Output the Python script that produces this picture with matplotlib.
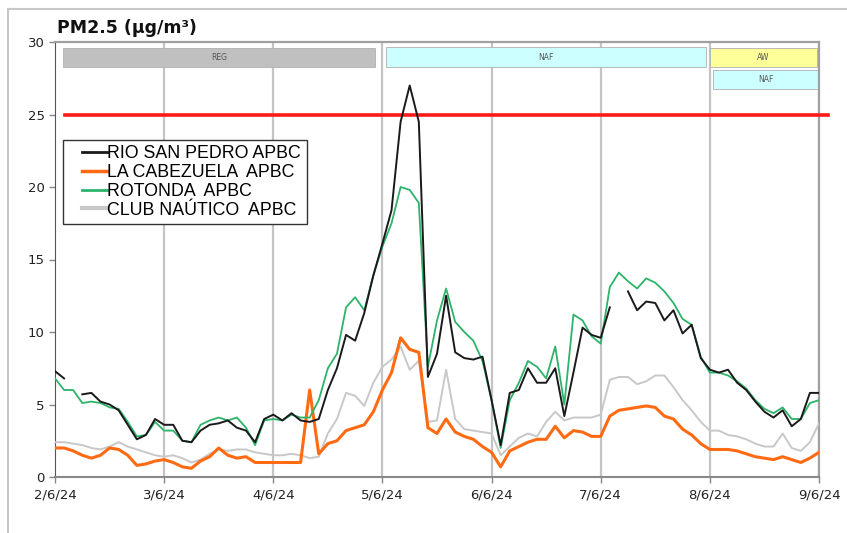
import numpy as np
import matplotlib
matplotlib.use("Agg")
import matplotlib.pyplot as plt
from matplotlib.patches import Rectangle
from matplotlib.lines import Line2D
from matplotlib.legend_handler import HandlerLine2D

nan = np.nan
# hours since 2/6/24 00:00, 2-hour steps
hours = list(range(0, 169, 2))

rio_san_pedro = [7.3, 6.8, nan, 5.7, 5.8, 5.2, 5.0, 4.6, 3.6, 2.6, 2.9, 4.0, 3.6, 3.6, 2.5, 2.4,
                 3.2, 3.6, 3.7, 3.9, 3.4, 3.2, 2.4, 4.0, 4.3, 3.9, 4.4, 3.9, 3.8, 4.0, 6.0, 7.5,
                 9.8, 9.4, 11.3, 13.9, 16.1, 18.4, 24.5, 27.0, 24.5, 6.9, 8.5, 12.5, 8.6, 8.2, 8.1, 8.3,
                 5.3, 2.2, 5.8, 6.0, 7.5, 6.5, 6.5, 7.5, 4.2, 7.2, 10.3, 9.8, 9.6, 11.7, nan, 12.8,
                 11.5, 12.1, 12.0, 10.8, 11.5, 9.9, 10.5, 8.2, 7.4, 7.2, 7.4, 6.5, 6.0, 5.2, 4.5, 4.1,
                 4.6, 3.5, 4.0, 5.8, 5.8]
la_cabezuela = [2.0, 2.0, 1.8, 1.5, 1.3, 1.5, 2.0, 1.9, 1.5, 0.8, 0.9, 1.1, 1.2, 1.0, 0.7, 0.6,
                1.1, 1.4, 2.0, 1.5, 1.3, 1.4, 1.0, 1.0, 1.0, 1.0, 1.0, 1.0, 6.0, 1.6, 2.3, 2.5,
                3.2, 3.4, 3.6, 4.5, 6.0, 7.2, 9.6, 8.8, 8.6, 3.4, 3.0, 4.0, 3.1, 2.8, 2.6, 2.1,
                1.7, 0.7, 1.8, 2.1, 2.4, 2.6, 2.6, 3.5, 2.7, 3.2, 3.1, 2.8, 2.8, 4.2, 4.6, 4.7,
                4.8, 4.9, 4.8, 4.2, 4.0, 3.3, 2.9, 2.3, 1.9, 1.9, 1.9, 1.8, 1.6, 1.4, 1.3, 1.2,
                1.4, 1.2, 1.0, 1.3, 1.7]
rotonda = [6.8, 6.0, 6.0, 5.1, 5.2, 5.1, 4.8, 4.7, 3.8, 2.8, 2.9, 3.8, 3.2, 3.2, 2.5, 2.4,
           3.6, 3.9, 4.1, 3.9, 4.1, 3.4, 2.2, 3.9, 4.0, 3.9, 4.3, 4.1, 4.1, 5.3, 7.5, 8.5,
           11.7, 12.4, 11.5, 13.9, 15.9, 17.5, 20.0, 19.8, 18.9, 7.6, 10.8, 13.0, 10.7, 10.0, 9.4, 8.0,
           5.3, 2.0, 5.3, 6.5, 8.0, 7.6, 6.8, 9.0, 5.0, 11.2, 10.8, 9.7, 9.2, 13.1, 14.1, 13.5,
           13.0, 13.7, 13.4, 12.8, 12.0, 10.9, 10.5, 8.3, 7.2, 7.2, 7.0, 6.6, 6.1, 5.3, 4.7, 4.4,
           4.8, 4.0, 4.0, 5.1, 5.3]
club_nautico = [2.4, 2.4, 2.3, 2.2, 2.0, 1.9, 2.1, 2.4, 2.1, 1.9, 1.7, 1.5, 1.4, 1.5, 1.3, 1.0,
                1.2, 1.6, 1.9, 1.8, 1.9, 1.9, 1.7, 1.6, 1.5, 1.5, 1.6, 1.5, 1.3, 1.4, 3.0, 4.0,
                5.8, 5.6, 4.9, 6.5, 7.6, 8.1, 9.0, 7.4, 8.0, 3.8, 3.9, 7.4, 4.0, 3.3, 3.2, 3.1,
                3.0, 1.5, 2.1, 2.7, 3.0, 2.8, 3.8, 4.5, 3.9, 4.1, 4.1, 4.1, 4.3, 6.7, 6.9, 6.9,
                6.4, 6.6, 7.0, 7.0, 6.2, 5.3, 4.6, 3.8, 3.2, 3.2, 2.9, 2.8, 2.6, 2.3, 2.1, 2.1,
                3.0, 2.0, 1.8, 2.4, 3.7]

series_names = ["RIO SAN PEDRO APBC", "LA CABEZUELA  APBC", "ROTONDA  APBC", "CLUB NAÚTICO  APBC"]
tick_hours = [0, 24, 48, 72, 96, 120, 144, 168]
tick_labels = ["2/6/24", "3/6/24", "4/6/24", "5/6/24", "6/6/24", "7/6/24", "8/6/24", "9/6/24"]
y_ticks = [0, 5, 10, 15, 20, 25, 30]
limit_value = 25

# episode bands: (label, start_h, end_h, y_low, y_high, color)
bands = [("REG", 1.8, 70.4, 28.3, 29.6, "#c0c0c0"),
         ("NAF", 72.8, 143.1, 28.25, 29.65, "#ccffff"),
         ("AW", 144.0, 167.5, 28.3, 29.6, "#ffff99"),
         ("NAF", 144.7, 168.0, 26.75, 28.05, "#ccffff")]

W, H = 847, 533
fig = plt.figure(figsize=(W / 100, H / 100), dpi=100)
ax = fig.add_axes([55 / W, 1 - 477 / H, (819 - 55) / W, (477 - 42) / H])

# outer frame
fig.add_artist(Line2D([8 / W, 1], [1 - 9 / H, 1 - 9 / H], transform=fig.transFigure, color="#c8c8c8", lw=1.5))
fig.add_artist(Line2D([8 / W, 8 / W], [0, 1 - 9 / H], transform=fig.transFigure, color="#c8c8c8", lw=1.5))

ax.set_xlim(0, 168)
ax.set_ylim(0, 30)
for t in tick_hours[1:]:
    ax.axvline(t, color="#c4c4c4", lw=1.6, zorder=1)

for lab, x0, x1, y0, y1, c in bands:
    ax.add_patch(Rectangle((x0, y0), x1 - x0, y1 - y0, facecolor=c, edgecolor="#b0b0b0", lw=0.6, zorder=2))
    ax.text((x0 + x1) / 2, (y0 + y1) / 2, lab, ha="center", va="center", fontsize=5.5, color="#555555", zorder=3)

ax.plot([2.2, 170.0], [limit_value, limit_value], color="#ff1a1a", lw=2.6, clip_on=False, zorder=4)

ax.plot(hours, club_nautico, color="#c8c8c8", lw=1.4, zorder=5)
ax.plot(hours, la_cabezuela, color="#ff6a13", lw=2.2, zorder=6)
ax.plot(hours, rotonda, color="#2db36a", lw=1.3, zorder=7)
ax.plot(hours, rio_san_pedro, color="#1a1a1a", lw=1.4, zorder=8)

ax.set_xticks(tick_hours)
ax.set_xticklabels(tick_labels)
ax.set_yticks(y_ticks)
ax.tick_params(axis="both", direction="out", length=4, width=1, colors="#888888", labelcolor="#222222", labelsize=9.5)
ax.tick_params(axis="x", pad=4)
for s in ["top", "right"]:
    ax.spines[s].set_color("#a0a0a0")
    ax.spines[s].set_linewidth(1.6)
ax.spines["left"].set_color("#555555")
ax.spines["bottom"].set_color("#888888")
ax.spines["bottom"].set_linewidth(1.5)

fig.text(57 / W, 1 - 28 / H, "PM2.5 (µg/m³)", fontsize=12.5, fontweight="bold", ha="left", va="center", color="#111111")

handles = [Line2D([], [], color="#1a1a1a", lw=2),
           Line2D([], [], color="#ff6a13", lw=2.5),
           Line2D([], [], color="#2db36a", lw=2),
           Line2D([], [], color="#c8c8c8", lw=3)]
hmap = {h: HandlerLine2D(xpad=0.75) for h in handles}
leg = ax.legend(handles, series_names, loc="upper left", bbox_to_anchor=(63 / W, 1 - 140 / H),
                bbox_transform=fig.transFigure, frameon=True, fancybox=False, framealpha=1,
                edgecolor="#333333", prop={"family": "Liberation Sans", "size": 12.8},
                handlelength=2.15, handletextpad=0.05, labelspacing=0.1, borderpad=0.3, borderaxespad=0,
                handler_map=hmap)
leg.get_frame().set_linewidth(1.0)
leg.set_zorder(10)

fig.savefig("out.png", dpi=100)
